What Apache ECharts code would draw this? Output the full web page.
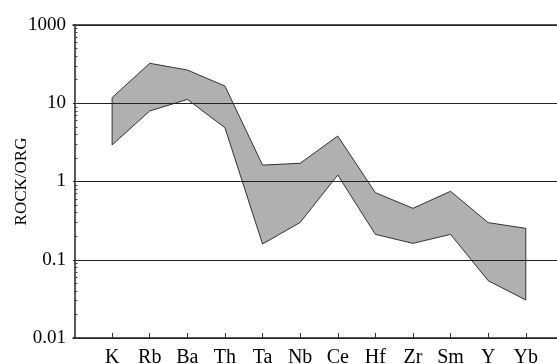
<!DOCTYPE html>
<html>
<head>
<meta charset="utf-8">
<script src="https://cdn.jsdelivr.net/npm/echarts@6/dist/echarts.min.js"></script>
<style>
html,body{margin:0;padding:0;background:#fff;}
#chart{width:557px;height:364px;}
</style>
</head>
<body>
<div id="chart"></div>
<script>
// Data (ROCK/ORG normalized trace elements)
const elements = ['K','Rb','Ba','Th','Ta','Nb','Ce','Hf','Zr','Sm','Y','Yb'];
const upperValues = [11.8, 32.4, 26.6, 16.6, 1.62, 1.71, 3.81, 0.72, 0.454, 0.75, 0.298, 0.252];
const lowerValues = [2.93, 7.96, 11.2, 4.87, 0.159, 0.30, 1.21, 0.211, 0.162, 0.211, 0.054, 0.0306];
const yTickLabels = ['0.01', '0.1', '1', '10', '1000'];
const yMinorValues = [];
[0.01, 0.1, 1, 10].forEach(function (d) { for (let k = 2; k <= 9; k++) yMinorValues.push(+(d * k).toPrecision(3)); });
const xTickValues = elements.map(function (_, i) { return i + 1; });

const font = '"Liberation Serif", "Times New Roman", serif';
const chart = echarts.init(document.getElementById('chart'), null, {renderer: 'canvas'});
chart.setOption({
  animation: false,
  backgroundColor: '#fff',
  grid: {left: 73, top: 25, right: 0, bottom: 26, containLabel: false, outerBoundsMode: 'none'},
  xAxis: [{
    type: 'value', min: -0.04, max: 12.83,
    axisLine: {show: true, lineStyle: {color: '#222', width: 1.5}},
    axisTick: {show: true, inside: true, length: 5, customValues: xTickValues, lineStyle: {color: '#333', width: 1}},
    axisLabel: {show: true, customValues: xTickValues, margin: 10, fontFamily: font, fontSize: 20, color: '#000',
      formatter: function (v) { return elements[Math.round(v) - 1] || ''; }},
    splitLine: {show: false}
  }, {
    type: 'value', position: 'top', min: -0.04, max: 12.83,
    axisLine: {show: true, lineStyle: {color: '#222', width: 1.5}},
    axisTick: {show: false}, axisLabel: {show: false}, splitLine: {show: false}
  }],
  yAxis: [{
    type: 'log', logBase: 10, min: 0.01, max: 100, z: 10,
    name: 'ROCK/ORG', nameLocation: 'middle', nameGap: 43, nameRotate: 90, nameMoveOverlap: false,
    nameTextStyle: {fontFamily: font, fontSize: 17, color: '#000'},
    axisLine: {show: true, lineStyle: {color: '#222', width: 1.5}},
    axisTick: {show: true, inside: true, length: 4, lineStyle: {color: '#333', width: 1}},
    axisLabel: {show: true, margin: 7, fontFamily: font, fontSize: 19, color: '#000',
      formatter: function (v) { return yTickLabels[Math.round(Math.log10(v)) + 2]; }},
    splitLine: {show: true, lineStyle: {color: '#222', width: 1}}
  }, {
    type: 'log', logBase: 10, min: 0.01, max: 100, position: 'left', z: 10,
    axisLine: {show: false},
    axisTick: {show: true, inside: true, length: 3, customValues: yMinorValues, lineStyle: {color: '#444', width: 1}},
    axisLabel: {show: false},
    splitLine: {show: false}
  }],
  series: [{
    type: 'custom',
    coordinateSystem: 'cartesian2d',
    xAxisIndex: 0, yAxisIndex: 0,
    data: [[1, 1]],
    renderItem: function (params, api) {
      const top = upperValues.map(function (v, i) { return api.coord([i + 1, v]); });
      const bottom = lowerValues.map(function (v, i) { return api.coord([i + 1, v]); }).reverse();
      return {
        type: 'polygon',
        shape: {points: top.concat(bottom)},
        style: {fill: '#b0b0b0', stroke: '#333', lineWidth: 1}
      };
    }
  }]
});
</script>
</body>
</html>
